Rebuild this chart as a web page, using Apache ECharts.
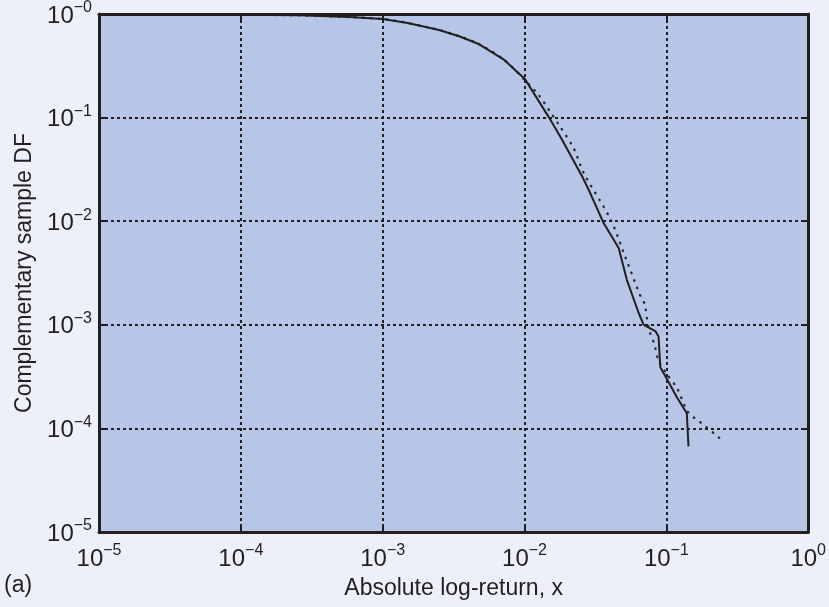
<!DOCTYPE html>
<html>
<head>
<meta charset="utf-8">
<script src="https://cdn.jsdelivr.net/npm/echarts@6/dist/echarts.min.js"></script>
<style>
  html, body { margin: 0; padding: 0; background: #edf0f9; }
  #chart { width: 829px; height: 607px; }
</style>
</head>
<body>
<div id="chart"></div>
<script>
// Empirical complementary sample DF (solid line): [x, P(|r| > x)]
const empiricalX = [1e-5, 1e-4, 2.6e-4, 5.8e-4, 1e-3, 0.0015, 0.0025, 0.0035, 0.0048, 0.0072, 0.0101, 0.0149, 0.0184, 0.0255, 0.0284, 0.0361, 0.0461, 0.0527, 0.0638, 0.0692, 0.0836, 0.0881, 0.0906, 0.0982, 0.1186, 0.1394, 0.1432];
const empiricalY = [0.998, 0.985, 0.97, 0.935, 0.895, 0.82, 0.70, 0.607, 0.51, 0.36, 0.234, 0.1, 0.061, 0.027, 0.02, 0.0096, 0.0055, 0.0027, 0.0013, 0.001, 0.00087, 0.00077, 0.00039, 0.00032, 0.0002, 0.00014, 0.000067];

// Fitted model (dotted line)
const modelX = [1e-5, 1e-4, 2.6e-4, 5.8e-4, 1e-3, 0.0015, 0.0025, 0.0035, 0.0048, 0.0072, 0.0101, 0.0126, 0.0149, 0.0175, 0.0222, 0.0262, 0.0403, 0.0514, 0.0659, 0.0703, 0.075, 0.0822, 0.0881, 0.1008, 0.1194, 0.1416, 0.1758, 0.2208, 0.2455];
const modelY = [0.998, 0.985, 0.97, 0.935, 0.895, 0.82, 0.70, 0.607, 0.51, 0.36, 0.228, 0.165, 0.118, 0.085, 0.0506, 0.029, 0.0105, 0.0045, 0.00187, 0.00159, 0.000925, 0.000653, 0.00045, 0.000335, 0.000242, 0.000145, 0.000113, 0.0000877, 0.0000773];

const xRange = [1e-5, 1];
const yRange = [1e-5, 1];
const xTitle = 'Absolute log-return, x';
const yTitle = 'Complementary sample DF';
const panelLabel = '(a)';

const FONT = '"Liberation Sans", Arial, Helvetica, sans-serif';
const INK = '#231f20';

function zip(xs, ys) { return xs.map((x, i) => [x, ys[i]]); }

function expLabel(v, zeroMinus) {
  const e = Math.round(Math.log10(v));
  let s;
  if (e === 0) s = zeroMinus ? '\u22120' : '0';
  else s = (e < 0 ? '\u2212' : '') + Math.abs(e);
  return '{b|10}{s|' + s + '}';
}

const rich = {
  b: { fontSize: 24, lineHeight: 28, verticalAlign: 'bottom', color: INK, fontFamily: FONT },
  s: { fontSize: 16, lineHeight: 16, verticalAlign: 'top', color: INK, fontFamily: FONT }
};

const gridLine = { show: true, lineStyle: { color: INK, width: 2, type: [3, 3] } };
const frameLine = { show: true, onZero: false, lineStyle: { color: INK, width: 3 } };
const tick = { show: true, inside: true, length: 6, lineStyle: { color: INK, width: 2 } };

const chart = echarts.init(document.getElementById('chart'), null, { renderer: 'canvas' });
chart.setOption({
  backgroundColor: '#edf0f9',
  animation: false,
  grid: {
    left: 99, right: 19, top: 14, bottom: 75,
    show: true, backgroundColor: '#b7c5e7', borderColor: INK, borderWidth: 0
  },
  xAxis: [
    {
      type: 'log', logBase: 10, min: xRange[0], max: xRange[1],
      position: 'bottom',
      name: xTitle, nameLocation: 'middle', nameGap: 45,
      nameTextStyle: { fontSize: 23, color: INK, fontFamily: FONT },
      axisLine: frameLine, axisTick: tick, splitLine: gridLine,
      minorTick: { show: false }, minorSplitLine: { show: false },
      axisLabel: { margin: 11, formatter: v => expLabel(v, false), rich: rich }
    },
    {
      type: 'log', logBase: 10, min: xRange[0], max: xRange[1],
      position: 'top',
      axisLine: frameLine, axisTick: tick, splitLine: { show: false },
      axisLabel: { show: false }
    }
  ],
  yAxis: [
    {
      type: 'log', logBase: 10, min: yRange[0], max: yRange[1],
      position: 'left',
      name: yTitle, nameLocation: 'middle', nameGap: 62,
      nameTextStyle: { fontSize: 23, color: INK, fontFamily: FONT },
      axisLine: frameLine, axisTick: tick, splitLine: gridLine,
      axisLabel: { margin: 7, formatter: v => expLabel(v, true), rich: rich }
    },
    {
      type: 'log', logBase: 10, min: yRange[0], max: yRange[1],
      position: 'right',
      axisLine: frameLine, axisTick: tick, splitLine: { show: false },
      axisLabel: { show: false }
    }
  ],
  graphic: [
    { type: 'text', left: 4, top: 574, style: { text: panelLabel, fontSize: 23, fill: INK, fontFamily: FONT } }
  ],
  series: [
    {
      name: 'model', type: 'line', xAxisIndex: 0, yAxisIndex: 0,
      data: zip(modelX, modelY), showSymbol: false, smooth: 0.3,
      lineStyle: { color: '#2a2a35', width: 2.4, type: [0.5, 7.5], cap: 'round' }, z: 3
    },
    {
      name: 'empirical', type: 'line', xAxisIndex: 0, yAxisIndex: 0,
      data: zip(empiricalX, empiricalY), showSymbol: false, smooth: false,
      lineStyle: { color: INK, width: 2 }, z: 4
    }
  ]
});
</script>
</body>
</html>
